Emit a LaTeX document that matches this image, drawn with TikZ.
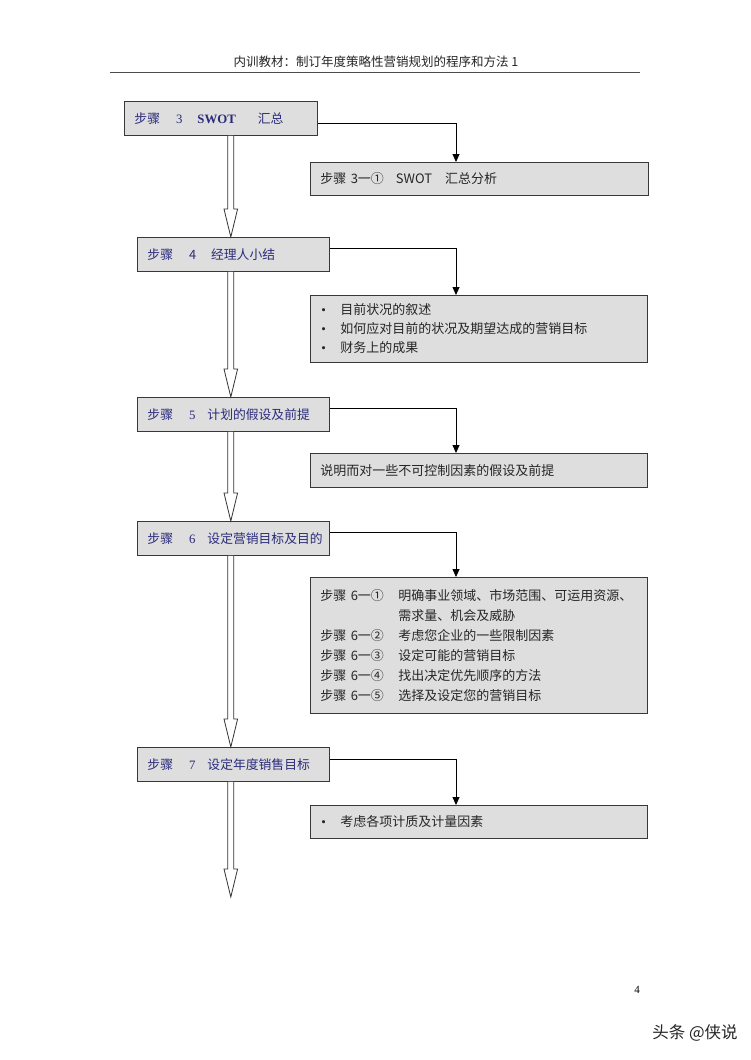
\documentclass[tikz,border=0pt]{standalone}
\usepackage{fontspec}
\setmainfont{Liberation Serif}
\newfontfamily\cjk{Noto Sans CJK SC}
\usetikzlibrary{arrows.meta,calc}
\definecolor{navytext}{HTML}{2B2B7A}
\definecolor{boxgray}{HTML}{DEDEDE}
\newcommand\hollowarrow[2]{%
  \draw[hollowline] let \p1=(#1), \p2=(#2) in
    (227.8pt,\y1) -- (227.8pt,\y2+28pt) -- (224pt,\y2+28pt) -- (230.8pt,\y2)
    -- (237.6pt,\y2+28pt) -- (233.8pt,\y2+28pt) -- (233.8pt,\y1);}
\begin{document}
\begin{tikzpicture}[x=1pt,y=-1pt,
  stepbox/.style={draw=black!78,line width=0.9pt,fill=boxgray,anchor=north west,
    minimum height=34pt,inner xsep=10pt,inner ysep=0pt,align=left,text=navytext,
    font=\cjk\fontsize{12.8}{16}\selectfont},
  infobox/.style={draw=black!78,line width=0.9pt,fill=boxgray,anchor=north west,
    inner xsep=10pt,inner ysep=0pt,text width=317pt,align=left,text=black!85,
    font=\cjk\fontsize{13}{19}\selectfont},
  conn/.style={draw=black,line width=0.8pt,-{Triangle[width=7pt,length=8pt]}},
  hollowline/.style={draw=black!80,line width=0.8pt,fill=white}]
\useasboundingbox (0,0) rectangle (750,1060);
\fill[white] (0,0) rectangle (750,1060);

% header
\node[font=\cjk\fontsize{12.5}{14}\selectfont,text=black!85] (title) at (376,62)
  {内训教材：制订年度策略性营销规划的程序和方法 1};
\draw[black!70,line width=0.8pt] (110,72) -- (640,72);

% step boxes
\node[stepbox,text width=173pt] (s3) at (124,101)
  {\rlap{步骤\hspace{16pt}{\rmfamily 3}\hspace{15pt}{\rmfamily\bfseries SWOT}\hspace{22pt}汇总}};
\node[stepbox,text width=172pt] (s4) at (137,237)
  {\rlap{步骤\hspace{16pt}4\hspace{15pt}经理人小结}};
\node[stepbox,text width=172pt] (s5) at (137,397)
  {\rlap{步骤\hspace{16pt}{\rmfamily 5}\hspace{12pt}计划的假设及前提}};
\node[stepbox,text width=172pt] (s6) at (137,521)
  {\rlap{步骤\hspace{16pt}{\rmfamily 6}\hspace{12pt}设定营销目标及目的}};
\node[stepbox,text width=172pt] (s7) at (137,747)
  {\rlap{步骤\hspace{16pt}{\rmfamily 7}\hspace{12pt}设定年度销售目标}};

% info boxes
\node[infobox,text width=318pt,minimum height=33pt] (r3) at (310,162)
  {步骤 3一①\hspace{12pt}SWOT\hspace{13pt}汇总分析};
\node[infobox,minimum height=67pt] (r4) at (310,295)
  {\hspace*{1pt}\makebox[19pt][l]{\rmfamily •}目前状况的叙述\\
   \hspace*{1pt}\makebox[19pt][l]{\rmfamily •}如何应对目前的状况及期望达成的营销目标\\
   \hspace*{1pt}\makebox[19pt][l]{\rmfamily •}财务上的成果};
\node[infobox,minimum height=34pt] (r5) at (310,453)
  {说明而对一些不可控制因素的假设及前提};
\node[infobox,minimum height=136pt,font=\cjk\fontsize{13}{20}\selectfont] (r6) at (310,577)
  {\makebox[78pt][l]{步骤 6一①}明确事业领域、市场范围、可运用资源、\\
   \makebox[78pt][l]{}需求量、机会及威胁\\
   \makebox[78pt][l]{步骤 6一②}考虑您企业的一些限制因素\\
   \makebox[78pt][l]{步骤 6一③}设定可能的营销目标\\
   \makebox[78pt][l]{步骤 6一④}找出决定优先顺序的方法\\
   \makebox[78pt][l]{步骤 6一⑤}选择及设定您的营销目标};
\node[infobox,minimum height=33pt] (r7) at (310,805)
  {\hspace*{1pt}\makebox[19pt][l]{\rmfamily •}考虑各项计质及计量因素};

% connectors to info boxes
\draw[conn] ($(s3.north east)+(0,22)$) -| ($(r3.north west)+(146,0)$);
\draw[conn] ($(s4.north east)+(0,11)$) -| ($(r4.north west)+(146,0)$);
\draw[conn] ($(s5.north east)+(0,11)$) -| ($(r5.north west)+(146,0)$);
\draw[conn] ($(s6.north east)+(0,11)$) -| ($(r6.north west)+(146,0)$);
\draw[conn] ($(s7.north east)+(0,12)$) -| ($(r7.north west)+(146,0)$);

% hollow arrows between steps
\coordinate (endtip) at (230.8,897);
\hollowarrow{s3.south}{s4.north}
\hollowarrow{s4.south}{s5.north}
\hollowarrow{s5.south}{s6.north}
\hollowarrow{s6.south}{s7.north}
\hollowarrow{s7.south}{endtip}

% page number and watermark
\node[font=\rmfamily\fontsize{11}{12}\selectfont] (pagenum) at (637,990) {4};
\node[font=\cjk\fontsize{16.5}{18}\selectfont,text=black!85] (wm) at (695,1033) {头条 @侠说};
\end{tikzpicture}
\end{document}
